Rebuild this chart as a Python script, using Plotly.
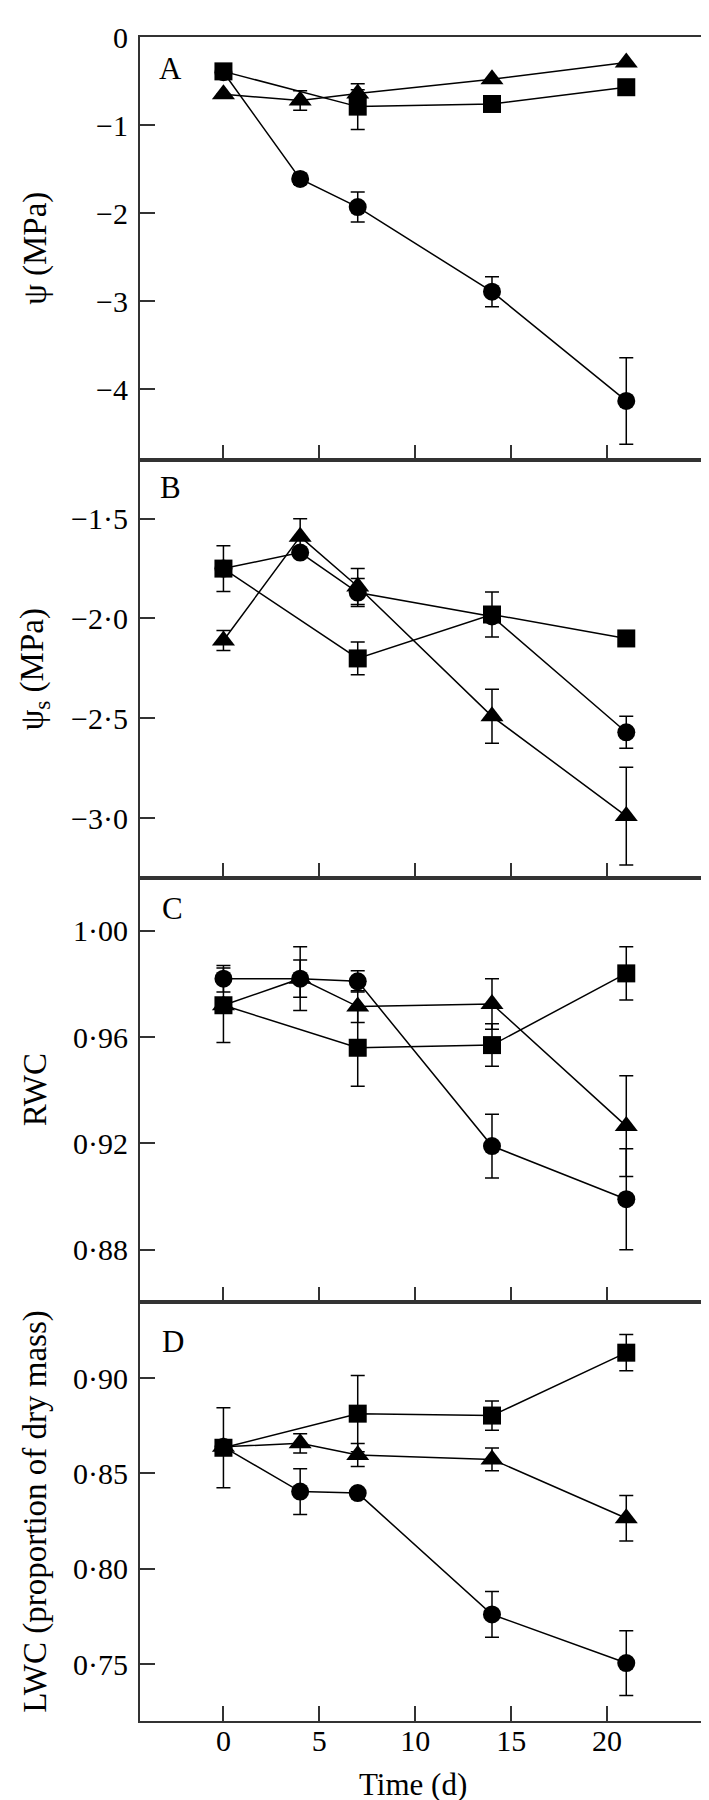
import plotly.graph_objects as go
from plotly.subplots import make_subplots

# ---------------- data ----------------
days = [0, 4, 7, 14, 21]
sq_days = [0, 7, 14, 21]

# Panel A: leaf water potential (MPa)
a_circle = [-0.40, -1.61, -1.93, -2.89, -4.13]
a_circle_err = [0, 0.06, 0.17, 0.17, 0.49]
a_triangle = [-0.65, -0.72, -0.64, -0.48, -0.29]
a_triangle_err = [0, 0.11, 0.04, 0, 0]
a_square = [-0.39, -0.79, -0.76, -0.57]
a_square_err = [0, 0.26, 0, 0]

# Panel B: osmotic potential (MPa)
b_circle = [-1.75, -1.67, -1.87, -1.99, -2.57]
b_circle_err = [0, 0, 0.07, 0, 0.08]
b_triangle = [-2.11, -1.59, -1.84, -2.49, -2.99]
b_triangle_err = [0.05, 0.09, 0.09, 0.135, 0.245]
b_square = [-1.75, -2.20, -1.98, -2.10]
b_square_err = [0.115, 0.082, 0.113, 0]

# Panel C: RWC
c_circle = [0.982, 0.982, 0.981, 0.919, 0.899]
c_circle_err = [0.005, 0.012, 0.004, 0.012, 0.019]
c_triangle = [0.972, 0.982, 0.9715, 0.9725, 0.9265]
c_triangle_err = [0, 0.007, 0.006, 0.0095, 0.019]
c_square = [0.972, 0.956, 0.957, 0.984]
c_square_err = [0.014, 0.0145, 0.008, 0.010]

# Panel D: LWC
d_circle = [0.864, 0.8405, 0.8397, 0.776, 0.7505]
d_circle_err = [0, 0.012, 0.002, 0.012, 0.017]
d_triangle = [0.864, 0.8658, 0.8597, 0.8574, 0.8265]
d_triangle_err = [0, 0.005, 0.006, 0.006, 0.012]
d_square = [0.8635, 0.8814, 0.8804, 0.9134]
d_square_err = [0.021, 0.020, 0.0077, 0.0095]

x_ticks = [0, 5, 10, 15, 20]
x_ticktext = ["0", "5", "10", "15", "20"]

a_ticks = [0, -1, -2, -3, -4]
a_ticktext = ["0", "\u22121", "\u22122", "\u22123", "\u22124"]
b_ticks = [-1.5, -2.0, -2.5, -3.0]
b_ticktext = ["\u22121\u00b75", "\u22122\u00b70", "\u22122\u00b75", "\u22123\u00b70"]
c_ticks = [1.00, 0.96, 0.92, 0.88]
c_ticktext = ["1\u00b700", "0\u00b796", "0\u00b792", "0\u00b788"]
d_ticks = [0.90, 0.85, 0.80, 0.75]
d_ticktext = ["0\u00b790", "0\u00b785", "0\u00b780", "0\u00b775"]

panels = [
    ("A", "\u03c8 (MPa)", [-4.8, 0.0], a_ticks, a_ticktext,
     (a_circle, a_circle_err), (a_triangle, a_triangle_err), (a_square, a_square_err)),
    ("B", "\u03c8<sub>s</sub> (MPa)", [-3.30, -1.206], b_ticks, b_ticktext,
     (b_circle, b_circle_err), (b_triangle, b_triangle_err), (b_square, b_square_err)),
    ("C", "RWC", [0.8603, 1.0199], c_ticks, c_ticktext,
     (c_circle, c_circle_err), (c_triangle, c_triangle_err), (c_square, c_square_err)),
    ("D", "LWC (proportion of dry mass)", [0.7201, 0.940], d_ticks, d_ticktext,
     (d_circle, d_circle_err), (d_triangle, d_triangle_err), (d_square, d_square_err)),
]

# ---------------- layout geometry (pixels) ----------------
W, H = 709, 1800
ML, MR, MT, MB = 132, 12, 21, 87
PW = W - ML - MR
PH = H - MT - MB
bottom_px = H - MB
panel_px = [(21, 446), (446, 866), (866, 1292), (1292, 1713)]
letter_px = [(163, 53), (163, 474), (165, 897), (165, 1332)]
title_x_px = 27


def py(p):
    return (bottom_px - p) / PH


def px(p):
    return (p - ML) / PW


FONT = "Liberation Serif, Times New Roman, serif"
LINE = "#000000"
AXC = "#333333"

fig = make_subplots(rows=4, cols=1, shared_xaxes=False, vertical_spacing=0)

for i, (letter, ytitle, yr, yt, ytt, circ, tri, sq) in enumerate(panels):
    row = i + 1
    fig.add_trace(go.Scatter(
        x=days, y=tri[0], mode="lines+markers",
        line=dict(color=LINE, width=1.5),
        marker=dict(symbol="triangle-up", size=20, color=LINE),
        error_y=dict(type="data", array=tri[1], color=LINE, thickness=1.5, width=7),
        showlegend=False), row=row, col=1)
    fig.add_trace(go.Scatter(
        x=days, y=circ[0], mode="lines+markers",
        line=dict(color=LINE, width=1.5),
        marker=dict(symbol="circle", size=18, color=LINE),
        error_y=dict(type="data", array=circ[1], color=LINE, thickness=1.5, width=7),
        showlegend=False), row=row, col=1)
    fig.add_trace(go.Scatter(
        x=sq_days, y=sq[0], mode="lines+markers",
        line=dict(color=LINE, width=1.5),
        marker=dict(symbol="square", size=18, color=LINE),
        error_y=dict(type="data", array=sq[1], color=LINE, thickness=1.5, width=7),
        showlegend=False), row=row, col=1)

    top, bot = panel_px[i]
    yname = "yaxis" if i == 0 else f"yaxis{i+1}"
    xname = "xaxis" if i == 0 else f"xaxis{i+1}"
    fig.layout[yname].update(
        domain=[py(bot), py(top)], range=yr,
        tickmode="array", tickvals=yt, ticktext=ytt,
        ticks="inside", ticklen=15, tickwidth=1.5, tickcolor=AXC,
        showline=True, linecolor=AXC, linewidth=2, mirror=True,
        showgrid=False, zeroline=False,
        ticklabelstandoff=4,
        tickfont=dict(family=FONT, size=30, color="#000"))
    fig.layout[xname].update(
        range=[-4.35, 25],
        tickmode="array", tickvals=x_ticks, ticktext=x_ticktext,
        ticks="inside", ticklen=15, tickwidth=1.5, tickcolor=AXC,
        showline=True, linecolor=AXC, linewidth=2, mirror=True,
        showgrid=False, zeroline=False,
        showticklabels=(i == 3),
        ticklabelstandoff=-8,
        tickfont=dict(family=FONT, size=30, color="#000"))

    fig.add_annotation(
        xref="paper", yref="paper", x=px(letter_px[i][0]), y=py(letter_px[i][1]),
        text=letter, showarrow=False, xanchor="center", yanchor="middle",
        font=dict(family=FONT, size=31, color="#000"))
    fig.add_annotation(
        xref="paper", yref="paper", x=px(title_x_px), y=py((top + bot) / 2),
        text=ytitle, showarrow=False, textangle=-90,
        xanchor="center", yanchor="middle",
        font=dict(family=FONT, size=33, color="#000"))

fig.add_annotation(
    xref="paper", yref="paper", x=px(406), y=py(1777),
    text="Time (d)", showarrow=False, xanchor="center", yanchor="middle",
    font=dict(family=FONT, size=31, color="#000"))

fig.update_layout(
    width=W, height=H,
    margin=dict(l=ML, r=MR, t=MT, b=MB, pad=0),
    paper_bgcolor="white", plot_bgcolor="white",
    showlegend=False,
)

fig.write_html("out.html")
